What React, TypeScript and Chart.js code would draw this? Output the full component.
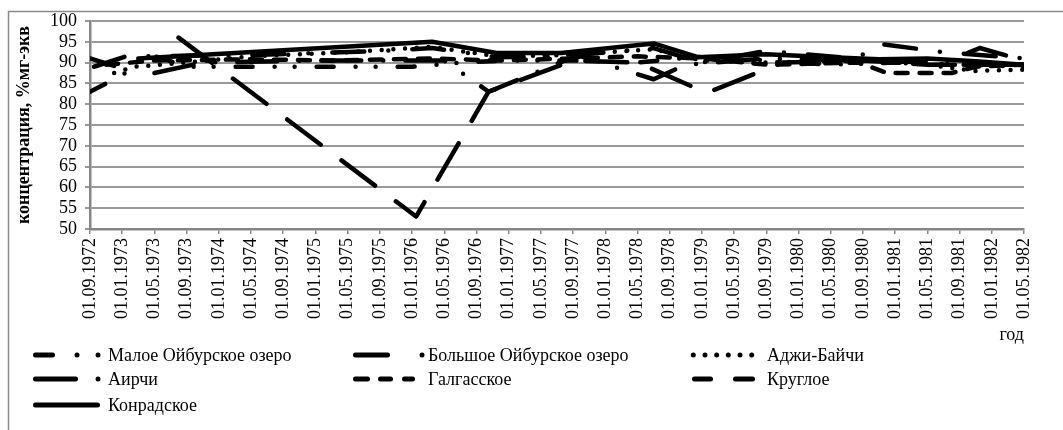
import React, { useEffect, useRef } from 'react';
import { Chart, registerables } from 'chart.js';

Chart.register(...registerables);

// x values are months counted from 01.09.1972
const tickLabels = [
  '01.09.1972', '01.01.1973', '01.05.1973', '01.09.1973', '01.01.1974', '01.05.1974',
  '01.09.1974', '01.01.1975', '01.05.1975', '01.09.1975', '01.01.1976', '01.05.1976',
  '01.09.1976', '01.01.1977', '01.05.1977', '01.09.1977', '01.01.1978', '01.05.1978',
  '01.09.1978', '01.01.1979', '01.05.1979', '01.09.1979', '01.01.1980', '01.05.1980',
  '01.09.1980', '01.01.1981', '01.05.1981', '01.09.1981', '01.01.1982', '01.05.1982',
];

const seriesNames = [
  'Малое Ойбурское озеро',
  'Большое Ойбурское озеро',
  'Аджи-Байчи',
  'Аирчи',
  'Галгасское',
  'Круглое',
  'Конрадское',
];

const maloeMonths = [0, 3.5, 5.3, 6.6, 9, 12, 20, 30, 40, 46, 52, 60, 68, 76, 84, 92, 100, 108, 116];
const maloeValues = [83, 86.5, 88.5, 92.3, 91, 89, 89, 89, 89, 90, 90.5, 90.5, 90, 91.5, 90.5, 89.5, 90, 89.5, 89];

const bolshoeMonths = [0.5, 4.5, 20, 36, 42.5, 50.5, 58.5, 70, 76, 84, 95, 98.5, 106, 116];
const bolshoeValues = [89, 91.5, 91.8, 92.8, 93.5, 91.3, 91.5, 93.5, 90, 92.8, 91, 94.4, 92.5, 91];

const adzhiMonths = [3, 5.5, 12, 20, 32, 42.5, 50.5, 58.5, 70, 76, 84, 96, 104, 110, 116];
const adzhiValues = [87.5, 89, 90, 91.5, 92.5, 93.8, 91.5, 91.8, 93.2, 90.5, 90, 90.5, 89.5, 88, 88.3];

const airchiMonths = [8, 14, 28, 44, 49.5, 59, 61, 70, 74, 84, 95, 106, 110.5, 116];
const airchiValues = [87.5, 90, 90.5, 90.5, 83, 90.5, 91.5, 86, 89.5, 91, 90.5, 90, 93.5, 90.5];

const galgMonths = [2, 8, 20, 30, 42.5, 50.5, 60, 68, 76, 84, 95.5, 99, 107, 110, 116];
const galgValues = [89.5, 90.5, 90.8, 90.5, 91, 90.5, 91, 91.5, 91, 89.5, 90, 87.5, 87.5, 89, 89.5];

const kruglMonths = [0, 3, 4, 11, 40.5, 49.5, 60, 68, 76.6, 86, 96, 104, 116];
const kruglValues = [91, 89.2, null, 96, 53, 83, 90.5, 90, 82.7, 90, 90.5, 89.5, 89.5];

const konradMonths = [6, 42.5, 50.5, 58.5, 70, 75.5, 84, 92, 98, 104, 110, 116];
const konradValues = [91, 95, 92.3, 92.3, 94.6, 91.3, 92, 91.3, 90.8, 91, 90.3, 89.5];

const FONT_FAMILY = "'Liberation Serif', 'Times New Roman', serif";

function pts(months: number[], values: (number | null)[]) {
  return months.map((m, i) => ({ x: m, y: values[i] }));
}

export default function App() {
  const ref = useRef<HTMLCanvasElement>(null);

  useEffect(() => {
    const canvas = ref.current!;
    const lw = 4.5;

    const styles = [
      { dash: [17, 22, 0, 20, 0, 22] },
      { dash: [32, 24, 0, 24] },
      { dash: [0, 11.7] },
      { dash: [40, 22, 0, 22] },
      { dash: [12, 12] },
      { dash: [42, 26] },
      { dash: [] as number[] },
    ];
    const seriesData = [
      pts(maloeMonths, maloeValues),
      pts(bolshoeMonths, bolshoeValues),
      pts(adzhiMonths, adzhiValues),
      pts(airchiMonths, airchiValues),
      pts(galgMonths, galgValues),
      pts(kruglMonths, kruglValues),
      pts(konradMonths, konradValues),
    ];

    const datasets = seriesNames.map((name, i) => ({
      label: name,
      data: seriesData[i],
      borderColor: '#000',
      backgroundColor: '#000',
      borderWidth: lw,
      borderDash: styles[i].dash,
      borderCapStyle: 'round' as const,
      borderJoinStyle: 'round' as const,
      pointRadius: 0,
      fill: false,
      tension: 0,
      spanGaps: false,
    }));

    // legend sample segments (relative to column start), dots have equal ends
    const legendSegs: number[][][] = [
      [[2.5, 19.5], [44, 44], [65, 65]],
      [[2.5, 34.5], [69, 69]],
      [[1.3, 1.3], [13, 13], [24.7, 24.7], [36.3, 36.3], [48, 48], [59.7, 59.7]],
      [[2.5, 42.5], [65, 65]],
      [[2.5, 14.5], [27.5, 37.5], [51.5, 59.5]],
      [[2.5, 18.5], [43.5, 60.5]],
      [[2.5, 64.5]],
    ];
    const colX = [33, 353, 692];
    const rowY = [355, 379, 405];

    const legendPlugin = {
      id: 'customLegend',
      afterDraw(chart: any) {
        const ctx = chart.ctx as CanvasRenderingContext2D;
        ctx.save();
        seriesNames.forEach((name, i) => {
          const col = i % 3;
          const row = Math.floor(i / 3);
          const x0 = colX[col];
          const y = rowY[row];
          ctx.strokeStyle = '#000';
          ctx.lineWidth = 5;
          ctx.lineCap = 'round';
          ctx.setLineDash([]);
          legendSegs[i].forEach(([a, b]) => {
            ctx.beginPath();
            ctx.moveTo(x0 + a, y);
            ctx.lineTo(x0 + b + (a === b ? 0.01 : 0), y);
            ctx.stroke();
          });
          ctx.fillStyle = '#000';
          ctx.font = `18px ${FONT_FAMILY}`;
          ctx.textBaseline = 'middle';
          ctx.textAlign = 'left';
          ctx.fillText(name, x0 + 75, y + 1);
        });
        ctx.restore();
      },
    };

    const borderPlugin = {
      id: 'outerBorder',
      afterDraw(chart: any) {
        const ctx = chart.ctx as CanvasRenderingContext2D;
        ctx.save();
        ctx.strokeStyle = '#8a8a8a';
        ctx.lineWidth = 1.5;
        ctx.strokeRect(8.5, 11.5, 1200, 600);
        ctx.restore();
      },
    };

    const chart = new Chart(canvas, {
      type: 'line',
      data: { datasets },
      options: {
        responsive: false,
        animation: false,
        devicePixelRatio: 1,
        layout: { padding: { left: 10, top: 21, right: 39, bottom: 80 } },
        plugins: {
          legend: { display: false },
          tooltip: { enabled: false },
        },
        scales: {
          x: {
            type: 'linear',
            min: 0,
            max: 116,
            ticks: {
              stepSize: 4,
              maxTicksLimit: 40,
              autoSkip: false,
              minRotation: 90,
              maxRotation: 90,
              padding: 4,
              color: '#000',
              font: { family: FONT_FAMILY, size: 18 },
              callback: (v: any) => tickLabels[Math.round(Number(v) / 4)],
            },
            grid: {
              drawOnChartArea: false,
              drawTicks: true,
              tickLength: 5,
              color: '#868686',
              lineWidth: 1.5,
            },
            border: { color: '#868686', width: 2.5 },
            title: {
              display: true,
              text: 'год',
              align: 'end',
              color: '#000',
              font: { family: FONT_FAMILY, size: 18 },
              padding: { top: 0, bottom: 4 },
            },
            afterFit: (s: any) => {
              s.height = 121;
            },
          },
          y: {
            min: 50,
            max: 100,
            ticks: {
              stepSize: 5,
              autoSkip: false,
              padding: 8,
              color: '#000',
              font: { family: FONT_FAMILY, size: 18 },
            },
            grid: {
              color: '#9a9a9a',
              lineWidth: 2,
              tickLength: 5,
            },
            border: { color: '#868686', width: 2.5 },
            title: {
              display: true,
              text: 'концентрация, %мг-экв',
              color: '#000',
              font: { family: FONT_FAMILY, size: 18, weight: 'bold' },
              padding: { top: 4, bottom: 0 },
            },
            afterFit: (s: any) => {
              s.width = 80;
            },
          },
        },
      } as any,
      plugins: [legendPlugin, borderPlugin],
    });

    return () => chart.destroy();
  }, []);

  return (
    <div style={{ position: 'fixed', left: 0, top: 0, width: 1063, height: 430, background: '#fff', overflow: 'hidden' }}>
      <canvas ref={ref} width={1063} height={430} style={{ display: 'block' }} />
    </div>
  );
}
